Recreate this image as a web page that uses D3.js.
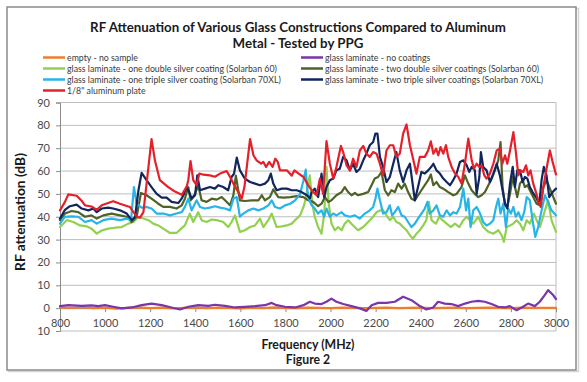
<!DOCTYPE html>
<html><head><meta charset="utf-8">
<script src="https://cdn.jsdelivr.net/npm/d3@7"></script>
<style>body{margin:0;background:#fff;} svg{display:block;font-family:Lato,"Noto Sans",sans-serif;}</style>
</head><body><svg id="c" width="587" height="382"></svg>
<script>
// ---------------- DATA ----------------
const titleLines = ["RF Attenuation of Various Glass Constructions Compared to Aluminum", "Metal - Tested by PPG"];
const xTicks = [800,1000,1200,1400,1600,1800,2000,2200,2400,2600,2800,3000];
const yTicks = [90,80,70,60,50,40,30,20,10,0,-10];
const yTickLabels = ["90","80","70","60","50","40","30","20","10","0","10"];
const seriesNames = [
  "empty - no sample",
  "glass laminate - no coatings",
  "glass laminate - one double silver coating (Solarban 60)",
  "glass laminate - two double silver coatings (Solarban 60)",
  "glass laminate - one triple silver coating (Solarban 70XL)",
  "glass laminate - two triple silver coatings (Solarban 70XL)",
  "1/8\" aluminum plate"
];
const seriesColors = ["#EE7D2C","#7A35A8","#92D050","#4F6228","#27B4E8","#12265E","#E5202A"];

const emptySample = [[800,0.3],[850,0.1],[900,0.4],[950,0.0],[1000,0.2],[1050,-0.2],[1100,0.1],[1150,0.3],[1200,0.0],[1250,0.2],[1300,-0.1],[1350,0.1],[1400,0.3],[1450,0.0],[1500,0.2],[1550,0.1],[1600,-0.1],[1650,0.2],[1700,0.0],[1750,0.3],[1800,0.1],[1850,0.0],[1900,0.2],[1950,0.1],[2000,0.0],[2050,0.2],[2100,0.1],[2150,0.0],[2200,0.1],[2250,0.2],[2300,0.0],[2350,0.1],[2400,0.2],[2450,0.0],[2500,0.1],[2550,0.2],[2600,0.0],[2650,0.1],[2700,0.2],[2750,0.1],[2800,0.0],[2850,0.2],[2900,0.1],[2950,0.1],[3000,0.1]];

const noCoatings = [[800,0.9],[837,1.3],[896,1],[940,1.2],[970,0.9],[999,1.3],[1036,0.6],[1074,-0.1],[1118,0.3],[1162,1.3],[1206,2],[1251,1.3],[1295,0.3],[1332,-0.6],[1369,0.6],[1413,1.3],[1458,1],[1487,1.5],[1532,1],[1576,0.3],[1620,0.6],[1665,0.9],[1709,1.3],[1739,2.3],[1761,1.3],[1798,0.6],[1843,0.3],[1880,1.3],[1908,2.8],[1930,2],[1960,1.8],[1982,2.8],[2004,4.2],[2026,2.8],[2056,1.8],[2093,0.9],[2130,-0.1],[2159,-1.2],[2182,1.3],[2211,2.3],[2248,2.3],[2285,2.8],[2322,5],[2359,3.5],[2396,0.9],[2425,-0.6],[2455,0.3],[2477,2.8],[2507,2],[2536,1.8],[2566,0.9],[2596,2],[2625,2.8],[2655,3.2],[2684,2.8],[2714,1.8],[2743,0.6],[2773,0.3],[2795,0.9],[2825,-0.9],[2854,0.6],[2876,2],[2906,0.9],[2928,2.8],[2950,5.7],[2965,7.9],[2985,6],[3000,4]];

const oneDouble60 = [[800,35.5],[830,38.5],[859,37.7],[889,36.2],[918,35.8],[940,34.8],[963,32.6],[985,34],[1014,34.8],[1044,35.2],[1074,35.5],[1103,37],[1126,37.7],[1148,40],[1170,39.2],[1192,38.5],[1214,37],[1236,36.2],[1258,34.8],[1288,32.9],[1317,32.9],[1340,35],[1354,36.2],[1376,41.4],[1391,37.7],[1413,42],[1428,38.5],[1450,37.7],[1473,38.8],[1495,38.5],[1524,37.7],[1546,35.5],[1561,37.7],[1576,40.6],[1598,33.4],[1620,34.1],[1643,35.5],[1665,36.2],[1687,39.2],[1702,35.5],[1724,38.5],[1739,41.4],[1761,35.5],[1784,35.8],[1806,36.2],[1828,37],[1850,39.2],[1865,40.6],[1880,44.3],[1890,47.9],[1898,53],[1908,58.1],[1919,45.7],[1930,40],[1945,35.5],[1960,32.6],[1972,41.4],[1982,61.8],[1992,45.7],[2004,37],[2019,34.1],[2034,35.5],[2049,34.1],[2063,37],[2078,38.5],[2100,36.2],[2122,34.1],[2145,35.5],[2167,37.7],[2189,40],[2204,42],[2219,42.8],[2233,42.8],[2248,40.6],[2263,38.5],[2278,40],[2292,37.7],[2307,37],[2322,35.5],[2337,34.1],[2352,31.9],[2366,30.4],[2381,32.6],[2396,34.1],[2411,36.2],[2425,38.5],[2436,46.5],[2448,38.5],[2460,37.5],[2468,37],[2482,40],[2497,38.5],[2515,37],[2533,35.5],[2552,37],[2571,35.5],[2589,38.5],[2604,40],[2618,38.5],[2633,37],[2655,40],[2677,35.5],[2700,33.4],[2722,32.6],[2744,34.1],[2759,31.9],[2769,29],[2781,35.5],[2796,36.2],[2811,37],[2825,38.5],[2840,37],[2855,34.1],[2870,38.5],[2884,37],[2902,41.4],[2914,38.5],[2929,35.5],[2951,42.8],[2965,47.2],[2980,38.5],[3000,33.4]];

const twoDouble60 = [[800,38.5],[822,41.4],[852,42.5],[881,42],[911,40],[940,40.6],[963,39.2],[992,40.6],[1029,41.4],[1066,40.6],[1096,40],[1118,37.7],[1140,40],[1159,50.4],[1184,49.4],[1206,47.9],[1236,45.7],[1258,44.3],[1288,44.3],[1317,43.6],[1340,45],[1354,47.9],[1369,53],[1379,47.2],[1399,50],[1413,53.8],[1428,47.2],[1450,46.5],[1473,47.9],[1495,47.5],[1517,48.6],[1532,47.2],[1554,45],[1569,49.4],[1580,58],[1598,47.2],[1620,46.9],[1650,47.2],[1680,47.2],[1695,49.4],[1709,47.2],[1731,48.6],[1746,52],[1768,48.6],[1791,48.4],[1821,48.6],[1850,49],[1880,48.6],[1901,47.2],[1923,46.5],[1945,44.6],[1960,45.7],[1975,48.6],[1990,46.5],[2004,47.2],[2026,49.4],[2049,50.8],[2063,53],[2078,50.8],[2093,49.4],[2108,50.4],[2122,49.4],[2145,50],[2167,50.8],[2182,53.8],[2196,56.7],[2211,57.4],[2226,59.6],[2241,51.6],[2256,49.4],[2270,51.6],[2285,50.8],[2300,54.5],[2315,52.3],[2329,54.5],[2344,50.8],[2359,47.9],[2374,47.2],[2388,49.4],[2403,51.6],[2418,53.8],[2433,56],[2445,58.5],[2456,53.8],[2470,55.2],[2485,53],[2500,52.3],[2522,50.8],[2544,49.4],[2559,50],[2581,53],[2596,58.1],[2611,54.5],[2626,51.6],[2640,50],[2655,48.6],[2670,49.4],[2685,50.8],[2700,53.8],[2715,56.7],[2729,60.3],[2744,64.7],[2754,72.7],[2763,53],[2774,45],[2784,44.3],[2796,50],[2808,57.4],[2818,53],[2828,48.6],[2840,54.5],[2852,56],[2862,53],[2874,53.8],[2884,51.6],[2899,48.6],[2914,45.7],[2929,45],[2944,53],[2958,56],[2973,52.3],[2988,48.6],[3000,45.7]];

const oneTriple70XL = [[800,37],[822,40],[852,40.2],[881,40],[911,37.7],[940,38.5],[963,37],[992,38.5],[1029,39.2],[1066,38.5],[1096,39.2],[1115,38.5],[1128,53],[1140,45.7],[1162,44],[1184,44.3],[1206,43.6],[1229,41.4],[1258,41.4],[1288,40.6],[1317,41.4],[1340,42],[1354,44.3],[1369,47.9],[1384,42.8],[1406,47.2],[1421,44.3],[1443,43.6],[1465,44],[1487,44.6],[1510,44],[1532,43.6],[1554,42.8],[1569,47.9],[1584,48.6],[1598,40],[1613,41.4],[1635,42.8],[1658,43.6],[1680,42.8],[1702,43.6],[1724,45],[1739,47.2],[1754,44.3],[1776,43.6],[1798,45],[1821,45.7],[1843,47.2],[1865,50],[1880,56],[1890,60.6],[1897,51.6],[1906,47.2],[1916,45],[1930,43.6],[1945,41.4],[1960,42.8],[1972,40],[1982,43.6],[1997,40],[2012,41.4],[2026,40.6],[2049,42],[2063,40.6],[2086,40],[2108,40.6],[2130,39.2],[2152,41.4],[2174,42.8],[2189,44.3],[2199,47.9],[2208,52.3],[2219,47.2],[2233,41.4],[2248,42],[2263,45],[2273,40.6],[2285,42],[2300,44.3],[2315,40.6],[2329,40],[2344,37.7],[2359,35.5],[2374,37],[2388,39.2],[2403,41.4],[2418,43.6],[2430,46.5],[2440,41.4],[2456,42.8],[2470,45],[2485,40.6],[2500,40],[2515,42.8],[2530,40.6],[2544,42],[2559,41.4],[2574,44.3],[2589,52.3],[2601,42.8],[2611,47.9],[2621,35.5],[2633,42.8],[2648,44.3],[2663,41.4],[2677,37.7],[2692,36.2],[2707,37],[2722,38.5],[2734,44.3],[2744,47.9],[2754,41.4],[2766,45.7],[2778,35.5],[2788,43.6],[2800,41.4],[2811,44.3],[2822,40],[2833,42],[2847,38.5],[2859,42],[2870,48.6],[2884,47.2],[2896,38.5],[2908,31.2],[2921,35.5],[2936,42.8],[2951,49.4],[2965,46.5],[2980,42.8],[3000,40.6]];

const twoTriple70XL = [[800,39.2],[822,43],[844,44.6],[874,45.3],[896,43.6],[926,42.8],[948,43.6],[963,42],[985,43.6],[1014,44],[1036,43.6],[1066,42.8],[1096,41.4],[1118,38.5],[1133,40],[1148,51.6],[1162,59.2],[1184,56],[1206,53],[1229,50],[1251,48.4],[1273,48.4],[1295,46.5],[1325,46],[1340,48],[1350,50],[1361,53],[1373,50.8],[1384,47.9],[1399,49.4],[1409,58.1],[1421,51.6],[1443,52.3],[1465,53],[1487,52.3],[1502,53.8],[1524,53],[1546,51.6],[1561,57.4],[1572,58.9],[1584,65.9],[1598,60.3],[1620,56.7],[1643,55.2],[1665,54.5],[1687,53.8],[1709,54.5],[1724,56],[1735,58.9],[1746,54.5],[1761,51.6],[1784,52.3],[1806,52.3],[1828,51.6],[1850,51.6],[1872,50.8],[1895,49.4],[1909,48],[1916,50.8],[1930,52.3],[1945,48.6],[1960,58.9],[1972,48.6],[1982,53],[1997,56],[2012,56.7],[2026,60.3],[2041,61],[2056,66.2],[2071,64.7],[2086,60.3],[2100,63.2],[2115,59.6],[2130,61],[2145,64.7],[2159,67.6],[2174,71.3],[2189,72.7],[2199,76.4],[2208,76.4],[2219,66.2],[2233,61.8],[2248,55.2],[2263,57.4],[2278,63.2],[2292,68.3],[2307,60.3],[2322,55.2],[2337,60.3],[2352,63.2],[2366,53],[2374,47.2],[2388,53],[2403,59.6],[2418,58.9],[2433,60.3],[2448,62],[2456,63.2],[2470,60.3],[2485,58.9],[2500,56.7],[2515,55.2],[2530,53.8],[2544,56],[2559,58.9],[2574,64],[2589,64.7],[2604,62.5],[2615,59.6],[2626,61.8],[2640,60.3],[2648,50],[2660,57.4],[2667,68.3],[2677,61.8],[2692,60.3],[2707,55.2],[2722,58.9],[2737,63.2],[2751,58.1],[2763,51.6],[2774,45.7],[2784,43.6],[2796,54.5],[2808,61.8],[2818,53],[2828,60.3],[2840,60.3],[2852,55.2],[2862,57.4],[2873,56.7],[2884,53],[2896,50.8],[2911,48.6],[2926,45.7],[2936,56],[2946,61.8],[2958,58.1],[2970,48.6],[2985,50.8],[3000,52.3]];

const aluminumPlate = [[800,42.8],[822,46.5],[837,49.8],[874,49.2],[896,47],[911,45],[940,44.5],[963,43],[985,45],[1036,46.8],[1066,45.7],[1110,44.3],[1140,40],[1155,39.6],[1170,42],[1206,74],[1221,64.7],[1243,56],[1280,53],[1310,51],[1340,49.6],[1362,53.2],[1369,56],[1379,64.4],[1391,56],[1406,53.8],[1418,58.9],[1436,58.4],[1465,58.1],[1487,57.5],[1510,58.9],[1539,60],[1551,58],[1569,54.5],[1591,50.8],[1606,48],[1618,53],[1643,74],[1658,66.9],[1672,64.7],[1692,63.2],[1702,64],[1714,61.8],[1728,64],[1743,61.8],[1755,65.4],[1766,64],[1776,60.3],[1806,60.3],[1828,58],[1840,60.3],[1857,59],[1880,57.4],[1901,53.8],[1916,51.6],[1938,49.4],[1953,56.7],[1967,50],[1982,73.1],[1997,63.2],[2012,56.7],[2026,61.8],[2046,71],[2056,68.3],[2071,62.5],[2086,60.3],[2100,65.4],[2115,61.8],[2130,69],[2145,71],[2159,67.6],[2174,66.2],[2189,68.3],[2204,67.6],[2219,63.2],[2233,58.1],[2248,69],[2263,71.3],[2278,71.3],[2292,66.2],[2307,67.6],[2322,76.4],[2337,80.4],[2352,71.3],[2366,65.4],[2381,58.9],[2396,66.2],[2418,66.2],[2433,69],[2445,73],[2456,67.6],[2468,69.8],[2478,66.9],[2488,70.5],[2500,67.6],[2512,71.3],[2522,66.2],[2537,61.8],[2552,58.9],[2567,57.4],[2581,54.5],[2596,63.2],[2611,74.2],[2626,64.7],[2636,61],[2648,63.2],[2660,61.8],[2670,62.5],[2682,58.1],[2692,56.7],[2707,58.9],[2722,63.2],[2737,69],[2751,69.8],[2762,63.2],[2774,66.9],[2784,63.2],[2796,69],[2811,77],[2822,68.3],[2833,58.1],[2843,60.3],[2855,59.6],[2867,62.5],[2877,58.1],[2887,60.3],[2899,54.5],[2911,50.8],[2921,47.2],[2932,44.3],[2944,53],[2958,61],[2973,69],[2985,64],[3000,58.5]];

const seriesData = [emptySample, noCoatings, oneDouble60, twoDouble60, oneTriple70XL, twoTriple70XL, aluminumPlate];

// ---------------- DRAW ----------------
const svg = d3.select("#c");
const plot = {left: 60, right: 556, top: 102.5, bottom: 331};

// frame
svg.append("rect").attr("x",8.5).attr("y",8.5).attr("width",570).attr("height",363)
  .attr("fill","none").attr("stroke","#d4d4d4").attr("stroke-width",1.5);
svg.append("rect").attr("x",7).attr("y",7).attr("width",569).attr("height",363)
  .attr("fill","#fff").attr("stroke","#8a8a8a").attr("stroke-width",1.5);

const x = d3.scaleLinear().domain([800,3000]).range([plot.left, plot.right]);
const y = d3.scaleLinear().domain([-10,90]).range([plot.bottom, plot.top]);

function fit(sel, target){
  const n = sel.node(); const fs = parseFloat(sel.attr("font-size"));
  const w = n.getComputedTextLength();
  sel.attr("font-size", (fs*target/w).toFixed(2));
}

// gridlines
svg.append("g").selectAll("line").data(yTicks).join("line")
  .attr("x1",plot.left).attr("x2",plot.right)
  .attr("y1",d=>y(d)).attr("y2",d=>y(d))
  .attr("stroke","#bdbdbd").attr("stroke-width",1);
svg.append("line").attr("x1",plot.right).attr("x2",plot.right).attr("y1",plot.top).attr("y2",plot.bottom)
  .attr("stroke","#bdbdbd");

// y axis
const yAxis = d3.axisLeft(y).tickValues(yTicks).tickFormat((d,i)=>yTickLabels[i]).tickSize(4).tickPadding(6);
const gy = svg.append("g").attr("transform",`translate(${plot.left},0)`).call(yAxis);
gy.select(".domain").attr("stroke","#8c8c8c");
gy.selectAll(".tick line").attr("stroke","#8c8c8c");
gy.selectAll("text").attr("font-size",11).attr("fill","#4a4a4a").attr("font-family","Lato");

// x axis at 0
const xAxis = d3.axisBottom(x).tickValues(xTicks).tickFormat(d3.format("d")).tickSize(4).tickPadding(7);
const gx = svg.append("g").attr("transform",`translate(0,${y(0)})`).call(xAxis);
gx.select(".domain").attr("stroke","#8c8c8c");
gx.selectAll(".tick line").attr("stroke","#8c8c8c");
gx.selectAll("text").attr("font-size",11).attr("fill","#4a4a4a").attr("font-family","Lato");

// lines
const line = d3.line().x(d=>x(d[0])).y(d=>y(d[1]));
svg.append("g").selectAll("path").data(d3.range(seriesData.length)).join("path")
  .attr("d",i=>line(seriesData[i])).attr("fill","none")
  .attr("stroke",i=>seriesColors[i]).attr("stroke-width",2.2)
  .attr("stroke-linejoin","round").attr("stroke-linecap","round");

// title
const t1 = svg.append("text").attr("x",298).attr("y",32).attr("text-anchor","middle")
  .attr("font-weight","bold").attr("font-size",14).attr("fill","#1a1a1a").text(titleLines[0]);
fit(t1, 416);
svg.append("text").attr("x",298).attr("y",48).attr("text-anchor","middle")
  .attr("font-weight","bold").attr("font-size",t1.attr("font-size")).attr("fill","#1a1a1a").text(titleLines[1]);

// legend
const legRows = [57.5, 68.5, 79.5, 90.5];
const legCols = [{lx:43, tx:67},{lx:301, tx:325}];
const probe = svg.append("text").attr("font-size",10).text(seriesNames[4]);
fit(probe, 214);
const legFs = probe.attr("font-size"); probe.remove();
const lg = svg.append("g");
seriesNames.forEach((name,i)=>{
  const r = Math.floor(i/2), c = i%2;
  const cy = legRows[r], col = legCols[c];
  lg.append("line").attr("x1",col.lx).attr("x2",col.lx+22).attr("y1",cy).attr("y2",cy)
    .attr("stroke",seriesColors[i]).attr("stroke-width",2.5);
  lg.append("text").attr("x",col.tx).attr("y",cy).attr("dy","0.35em")
    .attr("font-size",legFs).attr("fill","#3a3a3a").text(name);
});

// axis titles
const yt = svg.append("text").attr("transform","translate(25,212) rotate(-90)").attr("text-anchor","middle")
  .attr("font-weight","bold").attr("font-size",11.5).attr("fill","#1a1a1a").text("RF attenuation (dB)");
fit(yt, 118);
const xt = svg.append("text").attr("x",308).attr("y",349).attr("text-anchor","middle")
  .attr("font-weight","bold").attr("font-size",11.5).attr("fill","#1a1a1a").text("Frequency (MHz)");
fit(xt, 93);
svg.append("text").attr("x",308).attr("y",364).attr("text-anchor","middle")
  .attr("font-weight","bold").attr("font-size",xt.attr("font-size")).attr("fill","#1a1a1a").text("Figure 2");
</script></body></html>
